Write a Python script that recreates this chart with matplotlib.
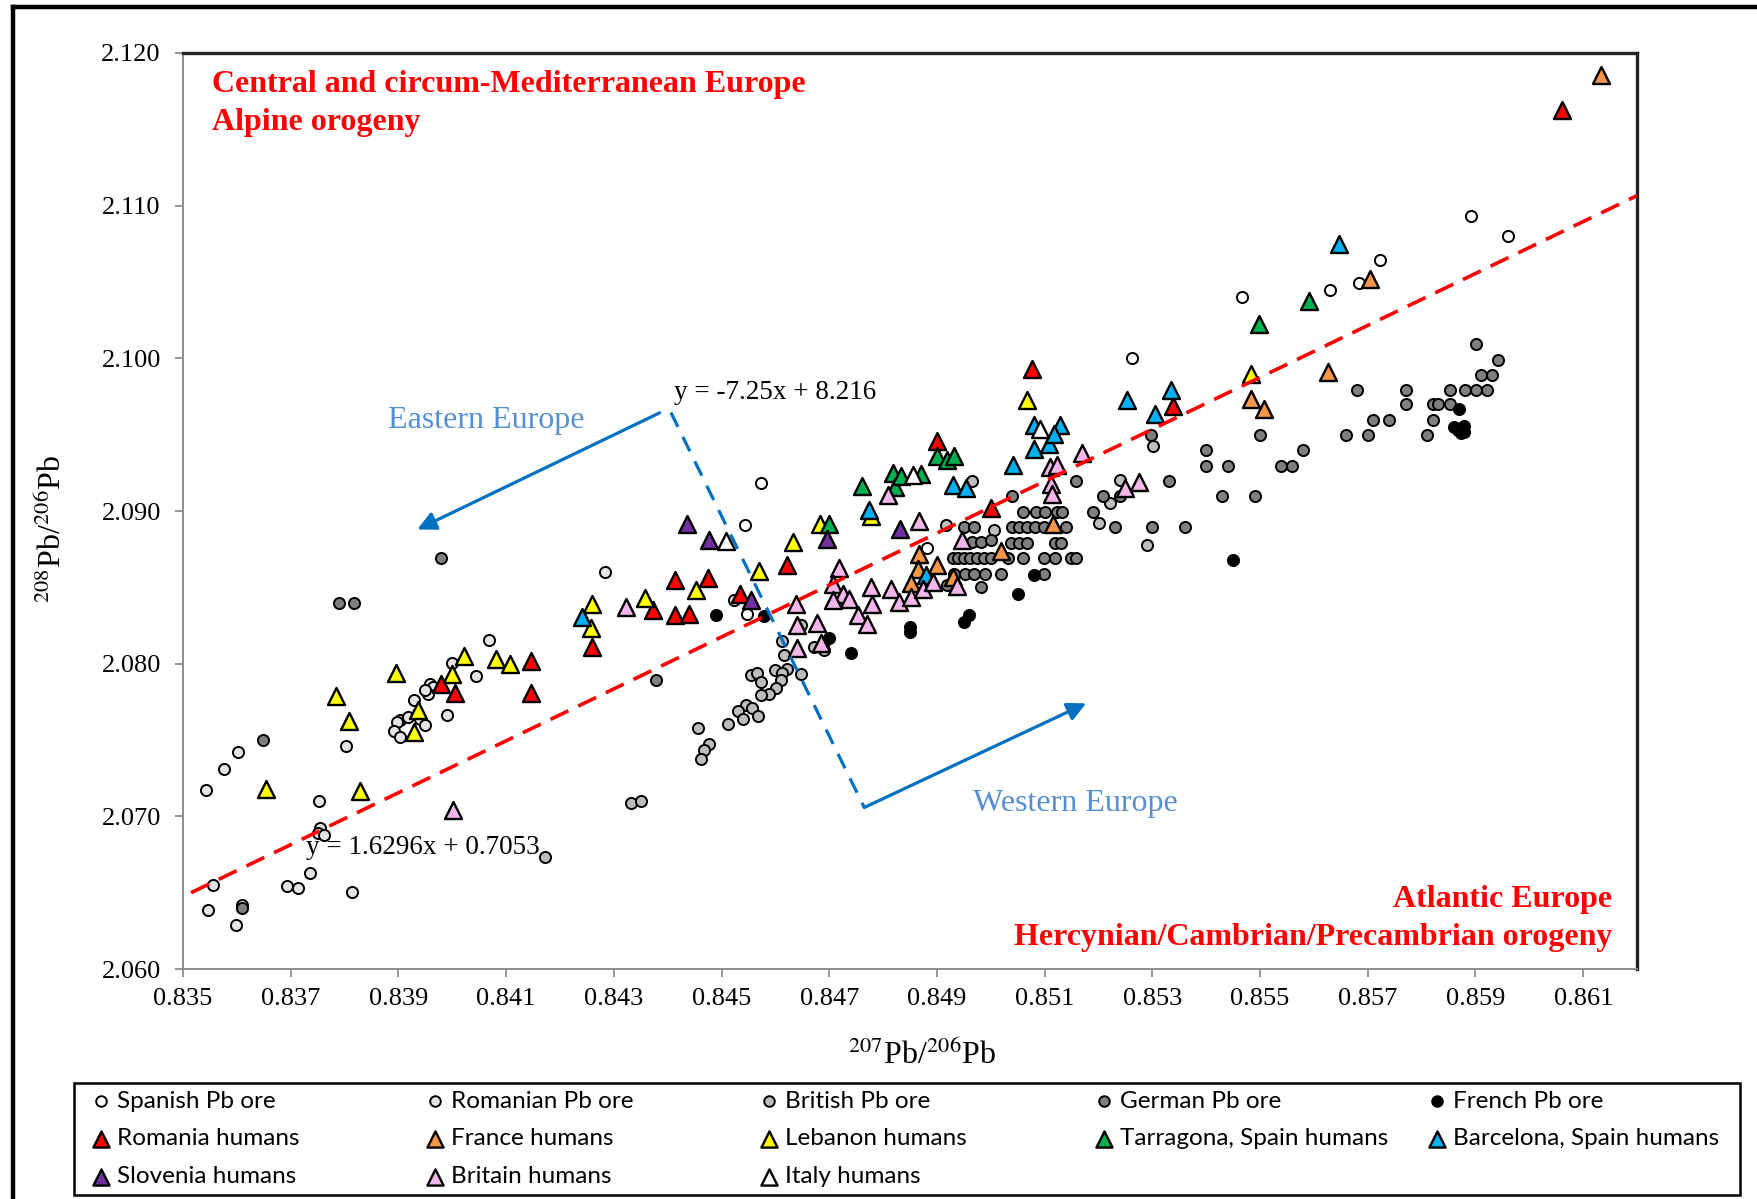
import matplotlib
matplotlib.use("Agg")
import matplotlib.pyplot as plt
from matplotlib.lines import Line2D
from matplotlib.patches import Rectangle, FancyArrowPatch
import numpy as np

plt.rcParams['font.family'] = ['Liberation Serif', 'DejaVu Serif']
plt.rcParams['mathtext.fontset'] = 'stix'

# ---- ores (circles) ----
spanish_x = [0.84574, 0.84543, 0.84548, 0.84882, 0.85263, 0.85467, 0.85629, 0.85684, 0.85723, 0.85892, 0.85960]
spanish_y = [2.09185, 2.08910, 2.08328, 2.08760, 2.10002, 2.10400, 2.10446, 2.10496, 2.10647, 2.10933, 2.10800]

romanian_x = [0.83542, 0.83556, 0.83547, 0.83577, 0.83602, 0.83610, 0.83599, 0.83694, 0.83714, 0.83735,
              0.83753, 0.83755, 0.83751, 0.83762, 0.83813, 0.83803, 0.83903, 0.83897, 0.83918, 0.83940,
              0.83950, 0.83892, 0.83903, 0.83929, 0.83959, 0.83964, 0.83954, 0.83950, 0.83999, 0.84044,
              0.83991, 0.84068, 0.84284, 0.84523]
romanian_y = [2.07170, 2.06550, 2.06385, 2.07310, 2.07420, 2.06420, 2.06290, 2.06543, 2.06533, 2.06627,
              2.07100, 2.06926, 2.06894, 2.06876, 2.06502, 2.07460, 2.07628, 2.07617, 2.07650, 2.07639,
              2.07596, 2.07559, 2.07520, 2.07760, 2.07869, 2.07847, 2.07804, 2.07826, 2.08004, 2.07919,
              2.07666, 2.08153, 2.08600, 2.08415]

british_x = [0.84173, 0.84332, 0.84351, 0.84613, 0.84616, 0.84647, 0.84622, 0.84600, 0.84613, 0.84610,
             0.84554, 0.84565, 0.84573, 0.84602, 0.84588, 0.84574, 0.84546, 0.84557, 0.84531, 0.84539,
             0.84568, 0.84512, 0.84457, 0.84476, 0.84467, 0.84461, 0.84647, 0.84672, 0.84690, 0.84916,
             0.84965, 0.85006, 0.85222, 0.85200, 0.85240, 0.85290, 0.85302]
british_y = [2.06734, 2.07088, 2.07103, 2.08148, 2.08054, 2.07935, 2.07968, 2.07956, 2.07939, 2.07891,
             2.07924, 2.07939, 2.07880, 2.07843, 2.07799, 2.07793, 2.07727, 2.07710, 2.07688, 2.07640,
             2.07658, 2.07608, 2.07579, 2.07476, 2.07437, 2.07373, 2.08252, 2.08109, 2.08092, 2.08907,
             2.09197, 2.08873, 2.09053, 2.08924, 2.09200, 2.08776, 2.09424]

german_x = [0.83648, 0.83610, 0.83979, 0.83789, 0.83818, 0.84379,
            0.84919, 0.84981,
            0.84931, 0.84952, 0.84969, 0.84990, 0.85019, 0.85099,
            0.84929, 0.84940, 0.84950, 0.84962, 0.84975, 0.84988, 0.85000, 0.85031, 0.85059, 0.85099, 0.85120, 0.85149, 0.85159,
            0.84966, 0.84982, 0.85000, 0.85037, 0.85052, 0.85068, 0.85120, 0.85131,
            0.84950, 0.84968, 0.85040, 0.85053, 0.85068, 0.85082, 0.85099, 0.85139, 0.85231, 0.85299, 0.85361,
            0.85059, 0.85083, 0.85100, 0.85123, 0.85132, 0.85190,
            0.85040, 0.85209, 0.85240, 0.85430, 0.85490,
            0.85159, 0.85330, 0.85298, 0.85399, 0.85580,
            0.85399, 0.85440, 0.85539, 0.85560,
            0.85499, 0.85660, 0.85701, 0.85810,
            0.85680, 0.85771, 0.85852, 0.85880, 0.85901, 0.85921,
            0.85771, 0.85821, 0.85830, 0.85852,
            0.85710, 0.85739, 0.85821,
            0.85901, 0.85941, 0.85910, 0.85930]
german_y = [2.07500, 2.06400, 2.08692, 2.08400, 2.08400, 2.07895,
            2.08513, 2.08502,
            2.08589, 2.08589, 2.08589, 2.08589, 2.08589, 2.08589,
            2.08693, 2.08693, 2.08693, 2.08693, 2.08693, 2.08693, 2.08693, 2.08693, 2.08693, 2.08693, 2.08693, 2.08693, 2.08693,
            2.08800, 2.08800, 2.08808, 2.08793, 2.08793, 2.08793, 2.08793, 2.08793,
            2.08895, 2.08895, 2.08896, 2.08896, 2.08896, 2.08896, 2.08896, 2.08896, 2.08896, 2.08896, 2.08896,
            2.08994, 2.08994, 2.08994, 2.08994, 2.08994, 2.08994,
            2.09100, 2.09100, 2.09100, 2.09097, 2.09097,
            2.09195, 2.09195, 2.09496, 2.09398, 2.09398,
            2.09295, 2.09295, 2.09295, 2.09295,
            2.09496, 2.09496, 2.09496, 2.09496,
            2.09791, 2.09791, 2.09791, 2.09791, 2.09791, 2.09791,
            2.09699, 2.09699, 2.09699, 2.09699,
            2.09599, 2.09599, 2.09599,
            2.10092, 2.09992, 2.09894, 2.09894]

french_x = [0.84489, 0.84579, 0.84700, 0.84690, 0.84741, 0.84850, 0.84850, 0.84960, 0.84950, 0.85050,
            0.85080, 0.85449, 0.85870, 0.85860, 0.85879, 0.85867, 0.85879, 0.85873]
french_y = [2.08317, 2.08312, 2.08171, 2.08140, 2.08072, 2.08240, 2.08207, 2.08317, 2.08273, 2.08454,
            2.08579, 2.08677, 2.09665, 2.09550, 2.09560, 2.09530, 2.09520, 2.09510]

# ---- humans (triangles) ----
romania_x = [0.83979, 0.84005, 0.84146, 0.84146, 0.84260, 0.84372, 0.84414, 0.84414, 0.84439, 0.84475,
             0.84534, 0.84622, 0.85000, 0.84900, 0.85076, 0.85339, 0.86060]
romania_y = [2.07865, 2.07807, 2.08016, 2.07807, 2.08108, 2.08350, 2.08550, 2.08317, 2.08328, 2.08564,
             2.08454, 2.08644, 2.09022, 2.09460, 2.09928, 2.09686, 2.11629]

france_x = [0.84867, 0.84864, 0.84851, 0.84900, 0.84929, 0.85019, 0.85116, 0.85484, 0.85508, 0.85627, 0.85704, 0.86133]
france_y = [2.08716, 2.08622, 2.08528, 2.08644, 2.08567, 2.08736, 2.08918, 2.09736, 2.09670, 2.09911, 2.10518, 2.11854]

lebanon_x = [0.83654, 0.83784, 0.83808, 0.83829, 0.83895, 0.83937, 0.83929, 0.83999, 0.84022, 0.84082,
             0.84107, 0.84260, 0.84257, 0.84358, 0.84453, 0.84569, 0.84633, 0.84682, 0.84777, 0.85068, 0.85484]
lebanon_y = [2.07182, 2.07788, 2.07623, 2.07164, 2.07939, 2.07694, 2.07553, 2.07935, 2.08053, 2.08032,
             2.08000, 2.08393, 2.08233, 2.08430, 2.08485, 2.08607, 2.08797, 2.08913, 2.08965, 2.09725, 2.09900]

tarragona_x = [0.84700, 0.84760, 0.84819, 0.84822, 0.84833, 0.84871, 0.84900, 0.84919, 0.84932, 0.85590, 0.85498]
tarragona_y = [2.08913, 2.09162, 2.09249, 2.09157, 2.09228, 2.09240, 2.09358, 2.09336, 2.09358, 2.10376, 2.10223]

barcelona_x = [0.84240, 0.84774, 0.84879, 0.84929, 0.84954, 0.85042, 0.85081, 0.85128, 0.85108, 0.85081,
               0.85118, 0.85252, 0.85305, 0.85334, 0.85647]
barcelona_y = [2.08306, 2.09009, 2.08579, 2.09168, 2.09153, 2.09300, 2.09561, 2.09561, 2.09441, 2.09409,
               2.09507, 2.09725, 2.09638, 2.09791, 2.10752]

slovenia_x = [0.84436, 0.84476, 0.84555, 0.84695, 0.84831]
slovenia_y = [2.08918, 2.08813, 2.08415, 2.08815, 2.08885]

britain_x = [0.84001, 0.84322, 0.84638, 0.84640, 0.84641, 0.84677, 0.84684, 0.84719, 0.84707, 0.84726,
             0.84737, 0.84707, 0.84754, 0.84771, 0.84778, 0.84780, 0.84814, 0.84830, 0.84851, 0.84875,
             0.84892, 0.84937, 0.84946, 0.84809, 0.84867, 0.85170, 0.85110, 0.85123, 0.85111, 0.85113,
             0.85250, 0.85276]
britain_y = [2.07039, 2.08371, 2.08389, 2.08252, 2.08105, 2.08266, 2.08136, 2.08629, 2.08524, 2.08459,
             2.08426, 2.08415, 2.08317, 2.08258, 2.08500, 2.08393, 2.08492, 2.08404, 2.08437, 2.08492,
             2.08535, 2.08507, 2.08808, 2.09103, 2.08932, 2.09380, 2.09289, 2.09300, 2.09179, 2.09114,
             2.09153, 2.09190]

italy_x = [0.84509, 0.84856, 0.85091]
italy_y = [2.08802, 2.09233, 2.09539]

# trend lines as drawn in the chart
trend_x = [0.83515, 0.86200]
trend_y = [2.06500, 2.11066]
divide_x = [0.84406, 0.84765]
divide_y = [2.09645, 2.07058]
east_arrow = [(0.84385, 2.09643), (0.83935, 2.08879)]
west_arrow = [(0.84765, 2.07058), (0.85177, 2.07740)]

x_ticks = np.arange(0.835, 0.8615, 0.002)
y_ticks = np.arange(2.060, 2.1205, 0.010)

fig = plt.figure(figsize=(17.58, 11.99), dpi=100)
ax = fig.add_axes([0.1041, 0.1918, 0.8271, 0.7640])

circ = dict(marker='o', s=64, edgecolors='black', linewidths=1.4, zorder=3)
tri = dict(marker='^', s=150, edgecolors='black', linewidths=1.7, zorder=4)

h_spanish = ax.scatter(spanish_x, spanish_y, c='white', label='Spanish Pb ore', **circ)
h_romanian = ax.scatter(romanian_x, romanian_y, c='#e4e4e4', label='Romanian Pb ore', **circ)
h_british = ax.scatter(british_x, british_y, c='#bdbdbd', label='British Pb ore', **circ)
h_german = ax.scatter(german_x, german_y, c='#7f7f7f', label='German Pb ore', **circ)
h_french = ax.scatter(french_x, french_y, c='black', label='French Pb ore', **circ)

h_romania = ax.scatter(romania_x, romania_y, c='#ff0000', label='Romania humans', **tri)
h_france = ax.scatter(france_x, france_y, c='#f79646', label='France humans', **tri)
h_lebanon = ax.scatter(lebanon_x, lebanon_y, c='#ffff00', label='Lebanon humans', **tri)
h_tarragona = ax.scatter(tarragona_x, tarragona_y, c='#00b050', label='Tarragona, Spain humans', **tri)
h_barcelona = ax.scatter(barcelona_x, barcelona_y, c='#00b0f0', label='Barcelona, Spain humans', **tri)
h_slovenia = ax.scatter(slovenia_x, slovenia_y, c='#7030a0', label='Slovenia humans', **tri)
h_britain = ax.scatter(britain_x, britain_y, c='#f4b5ea', label='Britain humans', **tri)
h_italy = ax.scatter(italy_x, italy_y, c='white', label='Italy humans', **tri)

ax.plot(trend_x, trend_y, color='#ff0000', lw=2.6, ls=(0, (5.5, 3)), zorder=6)
ax.plot(divide_x, divide_y, color='#0070c0', lw=2.3, ls=(0, (5, 3.5)), zorder=6)
for a in (east_arrow, west_arrow):
    ax.add_patch(FancyArrowPatch(a[0], a[1], arrowstyle='-|>', mutation_scale=28,
                                 color='#0070c0', lw=2.3, zorder=6, shrinkA=0, shrinkB=0))

ax.set_xlim(0.835, 0.862)
ax.set_ylim(2.060, 2.120)
ax.set_xticks(x_ticks)
ax.set_yticks(y_ticks)
ax.set_xticklabels(['%.3f' % v for v in x_ticks])
ax.set_yticklabels(['%.3f' % v for v in y_ticks])
ax.tick_params(direction='out', length=6, width=1.3, color='#8c8c8c', labelsize=19, pad=8)
ax.tick_params(axis='y', pad=10)
for s in ('left', 'bottom'):
    ax.spines[s].set_color('#8c8c8c')
    ax.spines[s].set_linewidth(1.4)
for s in ('top', 'right'):
    ax.spines[s].set_color('#222222')
    ax.spines[s].set_linewidth(2.4)

red_t = dict(color='#ff0000', fontsize=23, fontweight='bold', transform=ax.transAxes, va='center', zorder=7)
ax.text(0.020, 0.9657, 'Central and circum-Mediterranean Europe', ha='left', **red_t)
ax.text(0.020, 0.9240, 'Alpine orogeny', ha='left', **red_t)
ax.text(0.983, 0.0759, 'Atlantic Europe', ha='right', **red_t)
ax.text(0.983, 0.0343, 'Hercynian/Cambrian/Precambrian orogeny', ha='right', **red_t)

blue_t = dict(color='#558ed5', fontsize=23, transform=ax.transAxes, va='center', ha='left', zorder=7)
ax.text(0.1411, 0.5985, 'Eastern Europe', **blue_t)
ax.text(0.5436, 0.1811, 'Western Europe', **blue_t)

eq_t = dict(color='black', fontsize=19.5, transform=ax.transAxes, va='center', ha='left', zorder=7)
ax.text(0.3377, 0.6291, 'y = -7.25x + 8.216', **eq_t)
ax.text(0.0848, 0.1322, 'y = 1.6296x + 0.7053', **eq_t)

fig.text(0.5245, 0.1195, r'$^{207}$Pb/$^{206}$Pb', ha='center', va='center', fontsize=23)
fig.text(0.0295, 0.5588, r'$^{208}$Pb/$^{206}$Pb', ha='center', va='center', fontsize=23, rotation=90)

# outer frame (cropped on right and bottom)
fig.add_artist(Line2D([0.0074, 1.0], [0.9942, 0.9942], color='black', lw=3.2))
fig.add_artist(Line2D([0.0074, 0.0074], [0.0, 0.9942], color='black', lw=3.2))

# legend box and columns
fig.add_artist(Rectangle((0.0421, 0.0033), 0.9477, 0.0934, transform=fig.transFigure,
                         fill=False, edgecolor='black', lw=1.8))
columns = [[h_spanish, h_romania, h_slovenia],
           [h_romanian, h_france, h_britain],
           [h_british, h_lebanon, h_italy],
           [h_german, h_tarragona],
           [h_french, h_barcelona]]
col_x = [0.0520, 0.2420, 0.4320, 0.6225, 0.8120]
for hs, xc in zip(columns, col_x):
    fig.legend(handles=hs, loc='upper left', bbox_to_anchor=(xc, 0.0905), frameon=False,
               prop={'family': 'Lato', 'size': 17.5}, handletextpad=0.25, handlelength=0.8,
               labelspacing=0.69, borderpad=0, borderaxespad=0, markerscale=0.95)

fig.savefig('out.png', dpi=100)
